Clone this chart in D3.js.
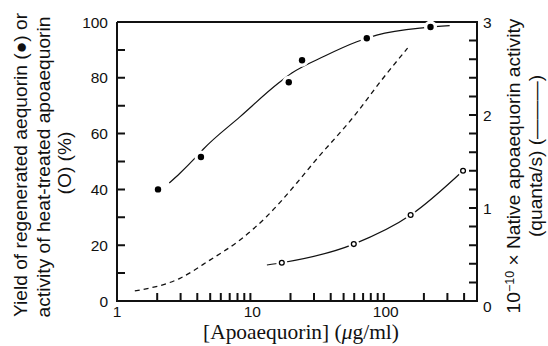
<!DOCTYPE html>
<html><head><meta charset="utf-8">
<script src="https://cdn.jsdelivr.net/npm/d3@7"></script>
<style>body{margin:0;background:#fff}</style></head><body>
<svg id="c" width="548" height="346"></svg>
<script>
// Yield of regenerated aequorin (filled circles), %
const regenX = [2.03, 4.26, 19.4, 24.4, 74.6, 224];
const regenY = [40, 51.6, 78.4, 86.3, 94.2, 98.2];
// fitted curve drawn through the filled circles
const regenFitX = [2.465, 2.964, 3.84, 4.43, 8.34, 16.35, 20.46, 36.1, 62.8, 88.6, 202.8, 312];
const regenFitY = [42.3, 45.8, 51.2, 54.4, 66.0, 78.2, 81.7, 87.8, 92.9, 95.3, 98.0, 98.7];
// Activity of heat-treated apoaequorin (open circles), %
const heatX = [17.2, 59.6, 159, 393];
const heatY = [13.7, 20.4, 30.8, 46.7];
const heatFitX = [13.3, 17.2, 59.6, 159, 393];
const heatFitY = [12.9, 13.7, 20.4, 30.8, 46.7];
// Native apoaequorin activity (dashed), 10^-10 quanta/s
const nativeX = [1.36, 2.96, 4.97, 8.36, 13.2, 22.2, 29.5, 62.4, 93.3, 151];
const nativeY = [0.108, 0.244, 0.44, 0.656, 0.906, 1.266, 1.48, 2.02, 2.35, 2.72];
// ticks
const leftTicks = [0, 10, 20, 30, 40, 50, 60, 70, 80, 90, 100];
const leftLabels = [0, 20, 40, 60, 80, 100];
const rightTicks = [0, 0.2, 0.4, 0.6, 0.8, 1, 1.2, 1.4, 1.6, 1.8, 2, 2.2, 2.4, 2.6, 2.8, 3];
const rightLabels = [0, 1, 2, 3];
const xTicks = [1, 2, 3, 4, 5, 6, 7, 8, 9, 10, 20, 30, 40, 50, 60, 70, 80, 90, 100, 200, 300, 400];
const xLabels = [1, 10, 100];

const svg = d3.select("#c");
const L = 117, R = 477, T = 22, B = 301;
const x = d3.scaleLog().domain([1, 500]).range([L, R]);
const y = d3.scaleLinear().domain([0, 100]).range([B, T]);
const y2 = d3.scaleLinear().domain([0, 3]).range([B, T]);
const sans = "'Liberation Sans', Arial, Helvetica, sans-serif";
const serif = "'Liberation Serif', 'Times New Roman', serif";
const tickLen = 8;
const ink = "#111";
const r1 = v => Math.round(v * 10) / 10;

// frame + inward ticks in one path
const framePath = `M${L},${T}V${B}H${R}V${T}H${L}` +
  xTicks.map(d => `M${r1(x(d))},${B}L${r1(x(d))},${B - tickLen}`).join("") +
  leftTicks.map(d => `M${L},${r1(y(d))}L${L + tickLen},${r1(y(d))}`).join("") +
  rightTicks.map(d => `M${R},${r1(y2(d))}L${R - tickLen},${r1(y2(d))}`).join("");
svg.append("path").attr("d", framePath)
  .attr("fill", "none").attr("stroke", ink).attr("stroke-width", 2);

// tick labels
svg.append("g").selectAll("text").data(leftLabels).join("text")
  .attr("x", 108).attr("y", d => y(d)).attr("dy", "0.36em")
  .attr("text-anchor", "end").attr("font-family", sans).attr("font-size", 15.5)
  .attr("fill", ink).text(d => d);
svg.append("g").selectAll("text").data(rightLabels).join("text")
  .attr("x", 483).attr("y", d => y2(d) + (d === 0 ? 5 : 0)).attr("dy", "0.36em")
  .attr("text-anchor", "start").attr("font-family", sans).attr("font-size", 15.5)
  .attr("fill", ink).text(d => d);
svg.append("g").selectAll("text").data(xLabels).join("text")
  .attr("x", d => x(d) + (d === 1 ? 0 : 2)).attr("y", 317)
  .attr("text-anchor", "middle").attr("font-family", sans).attr("font-size", 15.5)
  .attr("fill", ink).text(d => d);

// curves
const lineGen = d3.line().curve(d3.curveMonotoneX);
const pts = (xs, ys, ys2) => xs.map((v, i) => [x(v), ys2 ? y2(ys[i]) : y(ys[i])]);
svg.append("path").attr("d", lineGen(pts(nativeX, nativeY, true)))
  .attr("fill", "none").attr("stroke", ink).attr("stroke-width", 1.3)
  .attr("stroke-dasharray", "5,4");
svg.append("path").attr("d", lineGen(pts(regenFitX, regenFitY)))
  .attr("fill", "none").attr("stroke", ink).attr("stroke-width", 1.2);
svg.append("path").attr("d", lineGen(pts(heatFitX, heatFitY)))
  .attr("fill", "none").attr("stroke", ink).attr("stroke-width", 1.2);

// white halos (line gaps around markers)
svg.append("g").selectAll("circle").data(regenX.map((v, i) => [v, regenY[i]])).join("circle")
  .attr("cx", d => x(d[0])).attr("cy", d => y(d[1])).attr("r", 6.5).attr("fill", "#fff");
svg.append("g").selectAll("circle").data(heatX.map((v, i) => [v, heatY[i]])).join("circle")
  .attr("cx", d => x(d[0])).attr("cy", d => y(d[1])).attr("r", 5.5).attr("fill", "#fff");
// markers
svg.append("g").selectAll("circle").data(regenX.map((v, i) => [v, regenY[i]])).join("circle")
  .attr("cx", d => x(d[0])).attr("cy", d => y(d[1])).attr("r", 3.2).attr("fill", "#000");
svg.append("g").selectAll("circle").data(heatX.map((v, i) => [v, heatY[i]])).join("circle")
  .attr("cx", d => x(d[0])).attr("cy", d => y(d[1])).attr("r", 2.4)
  .attr("fill", "#fff").attr("stroke", "#000").attr("stroke-width", 1.3);

// axis titles
function vtext(cx, cy, fs, content, fam) {
  const t = svg.append("text").attr("transform", `translate(${cx},${cy}) rotate(-90)`)
    .attr("text-anchor", "middle").attr("font-family", fam || sans)
    .attr("font-size", fs).attr("fill", ink);
  content(t);
  return t;
}
const fsL = 16.3;
const l1 = vtext(27, 165, fsL, t => t.text("Yield of regenerated aequorin (●) or"));
const l1w = l1.node().getComputedTextLength();
const fsFit = fsL * 304 / l1w;
l1.attr("font-size", fsFit);
vtext(49.5, 167, fsFit, t => t.text("activity of heat-treated apoaequorin"));
vtext(71, 163, fsFit, t => t.text("(O) (%)"));

vtext(520, 166, fsFit, t => {
  t.append("tspan").text("10");
  t.append("tspan").attr("dy", -6).attr("font-size", fsFit * 0.65).text("−10");
  t.append("tspan").attr("dy", 6).text(" × Native apoaequorin activity");
});
vtext(542, 156, fsFit, t => t.text("(quanta/s) (———)"));

const xt = svg.append("text").attr("x", 301).attr("y", 339).attr("text-anchor", "middle")
  .attr("font-family", serif).attr("font-size", 19).attr("fill", ink);
xt.append("tspan").text("[Apoaequorin] (");
xt.append("tspan").attr("font-style", "italic").text("μ");
xt.append("tspan").text("g/ml)");
const xw = xt.node().getComputedTextLength();
xt.attr("font-size", 19 * 196 / xw);
</script></body></html>
